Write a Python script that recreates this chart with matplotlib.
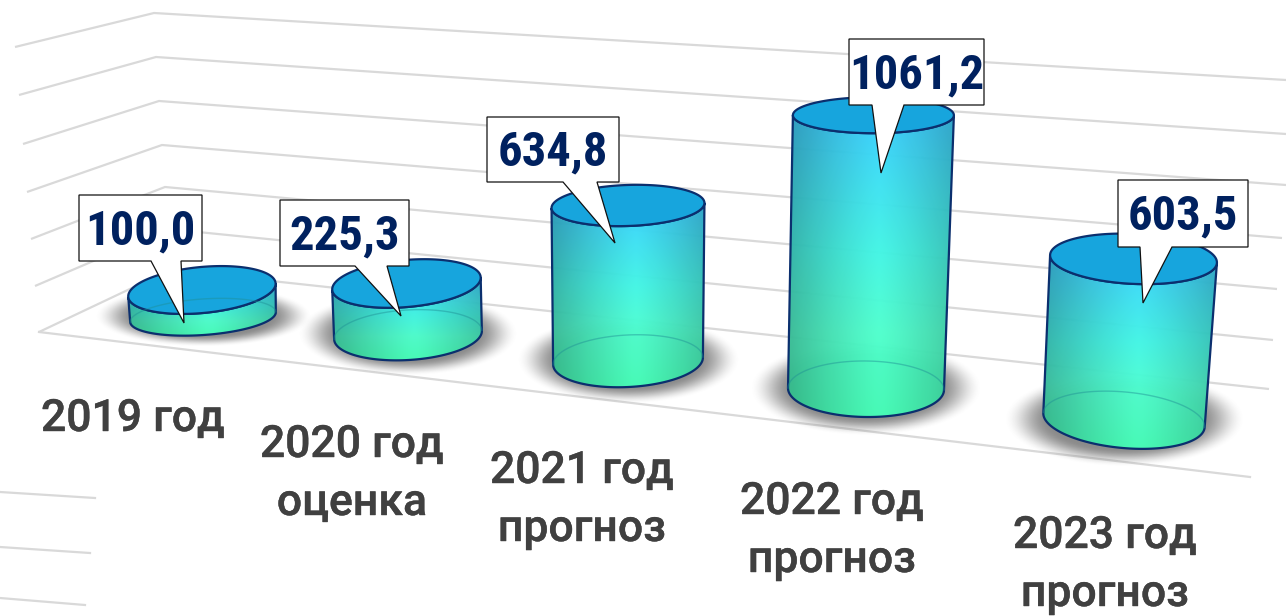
"""
3D-looking cylinder chart, drawn on a pixel-sized axes.
"""
import numpy as np
import matplotlib.pyplot as plt
import matplotlib.patheffects as pe
from matplotlib import font_manager as fm
from matplotlib.patches import Polygon

# ---- data ----
YEARS = ["2019 год", "2020 год", "2021 год", "2022 год", "2023 год"]
NOTES = ["", "оценка", "прогноз", "прогноз", "прогноз"]
VALUES = [100.0, 225.3, 634.8, 1061.2, 603.5]

# ---- layout, in pixels of the 1286x616 picture ----
BASE_X = [203, 408, 628, 866, 1124]
BASE_Y = [317, 335, 361, 389, 420]
PX_PER_UNIT = [0.27, 0.2286, 0.245, 0.258, 0.267]   # perspective differs per bar
LEAN = [-0.04, -0.03, 0.0, 0.027, 0.059]
TOP_A = [74, 74.5, 76.5, 80.5, 83.5]
TOP_B = [23, 23.5, 20.5, 18, 25]
TOP_TILT = [-5.4, -5.0, -2, 0, 2.7]
BOT_A = [73, 74, 75, 78, 81]
BOT_B = [18, 25, 26, 28, 28]
BOT_TILT = [-4, -3.5, -3, 0.7, 5.3]

BOX_L = [79, 280, 487, 849, 1118]
BOX_R = [202, 409, 619, 984, 1248]
BOX_T = [195, 200, 117, 39, 180]
BOX_B = [261, 266, 182, 105, 247]
PTR_L = [151, 355, 563, 872, 1140]
PTR_R = [181, 387, 597, 904, 1172]
TIP_X = [184, 401, 615, 881, 1143]
TIP_Y = [323, 316, 243, 173, 303]

LABEL_X = [133, 352, 582, 832, 1105]
LABEL_Y = [419, 445, 471, 502, 536]
NOTE_DY = 58

# gridlines: left end, back corner, right end
GRID_LEFT_X = [15, 19, 23, 27, 31, 35, 39]
GRID_LEFT_Y = [47, 95, 144, 192, 239, 286, 332]
GRID_CORNER_X = [154, 156, 159, 162, 165, 168, 170]
GRID_CORNER_Y = [13, 57, 101, 145, 187, 229, 270]
GRID_RIGHT_X = [1286, 1286, 1286, 1282, 1277, 1273, 1269]
GRID_RIGHT_Y = [80, 134, 185, 238, 289, 340, 389]
STUBS = [((0, 95), (492, 498)), ((0, 90), (547, 553)), ((0, 85), (598, 605))]

GRID = "#d9d9d9"
OUTLINE = "#0b2f6e"
TOP_FILL = "#17a5dd"
NAVY = "#00215f"
TEXT = "#404040"

fig = plt.figure(figsize=(12.86, 6.16), dpi=100)
ax = fig.add_axes([0, 0, 1, 1])


def pick_font(*names):
    have = {f.name for f in fm.fontManager.ttflist}
    return [n for n in names if n in have] + ["DejaVu Sans"]


def ellipse(cx, cy, a, b, tilt, t):
    th = np.radians(tilt)
    x = cx + a * np.cos(t) * np.cos(th) - b * np.sin(t) * np.sin(th)
    y = cy + a * np.cos(t) * np.sin(th) + b * np.sin(t) * np.cos(th)
    return x, y


def body_gradient(n=200):
    # blue at the top, green at the bottom, darker towards both sides
    stops = [0, 0.45, 0.72, 1]
    reds = [56, 66, 78, 70]
    greens = [206, 245, 255, 255]
    blues = [255, 229, 205, 184]
    v = np.linspace(0, 1, n)
    col = np.stack([np.interp(v, stops, reds),
                    np.interp(v, stops, greens),
                    np.interp(v, stops, blues)], axis=1) / 255
    u = np.linspace(0, 1, n)
    edge = np.clip(np.abs(u - 0.55) / 0.55, 0, 1) ** 1.25
    img = np.zeros((n, n, 3))
    for c in range(3):
        img[:, :, c] = np.outer(col[:, c], 1 - 0.27 * edge)
    return img


def draw_shadow(cx, cy, a, b):
    x = np.linspace(-1, 1, 160)
    xx, yy = np.meshgrid(x, x)
    r = np.hypot(xx, yy)
    alpha = np.clip((1 - r) / 0.38, 0, 1)
    alpha = alpha * alpha * (3 - 2 * alpha) * 0.7
    img = np.zeros((160, 160, 4))
    img[:, :, :3] = 0.35
    img[:, :, 3] = alpha
    ax.imshow(img, extent=(cx - a, cx + a, cy + b, cy - b), aspect="auto",
              zorder=2, interpolation="bilinear")


# gridlines
for i in range(len(GRID_LEFT_X)):
    ax.plot([GRID_LEFT_X[i], GRID_CORNER_X[i], GRID_RIGHT_X[i]],
            [GRID_LEFT_Y[i], GRID_CORNER_Y[i], GRID_RIGHT_Y[i]],
            color=GRID, lw=1.6, zorder=1, solid_capstyle="butt")
ax.plot([GRID_LEFT_X[-1], 1250], [GRID_LEFT_Y[-1], 477], color=GRID, lw=1.6, zorder=1)
for xs, ys in STUBS:
    ax.plot(xs, ys, color=GRID, lw=1.6, zorder=1)

grad = body_gradient()
front = np.linspace(0, np.pi, 80)
back = np.linspace(np.pi, 2 * np.pi, 80)
whole = np.linspace(0, 2 * np.pi, 160)

for i, value in enumerate(VALUES):
    h = value * PX_PER_UNIT[i]
    bx, by = BASE_X[i], BASE_Y[i]
    tx, ty = bx + LEAN[i] * h, by - h
    z = 3 + i * 0.1

    draw_shadow(bx, by - 1, BOT_A[i] * 1.5, BOT_B[i] * 1.7)

    # side wall
    fx, fy = ellipse(bx, by, BOT_A[i], BOT_B[i], BOT_TILT[i], front)
    gx, gy = ellipse(tx, ty, TOP_A[i], TOP_B[i], TOP_TILT[i], front)
    outline = np.column_stack([np.r_[fx, gx[::-1]], np.r_[fy, gy[::-1]]])
    body = Polygon(outline, closed=True, facecolor="none", edgecolor=OUTLINE,
                   lw=1.6, zorder=z + 0.03)
    ax.add_patch(body)
    x0, x1 = outline[:, 0].min(), outline[:, 0].max()
    y0, y1 = outline[:, 1].min(), outline[:, 1].max()
    im = ax.imshow(grad, extent=(x0, x1, y1, y0), aspect="auto", zorder=z,
                   alpha=0.97, interpolation="bilinear")
    im.set_clip_path(body)

    # top face
    ex, ey = ellipse(tx, ty, TOP_A[i], TOP_B[i], TOP_TILT[i], whole)
    ax.fill(ex, ey, facecolor=TOP_FILL, edgecolor=OUTLINE, lw=1.6, zorder=z + 0.05)

    # far edge of the base, seen through the wall (and the lid on short bars)
    kx, ky = ellipse(bx, by, BOT_A[i], BOT_B[i], BOT_TILT[i], back)
    ax.plot(kx, ky, color="#1f8f95", lw=1.0, alpha=0.45, zorder=z + 0.06)

# value callouts
value_font = pick_font("Liberation Sans Narrow", "Roboto Condensed", "Roboto")
label_font = pick_font("Roboto")
for i, value in enumerate(VALUES):
    l, r, t, b = BOX_L[i], BOX_R[i], BOX_T[i], BOX_B[i]
    ax.add_patch(Polygon([(l, t), (r, t), (r, b), (PTR_R[i], b), (TIP_X[i], TIP_Y[i]),
                          (PTR_L[i], b), (l, b)],
                         closed=True, facecolor="white", edgecolor="#111111",
                         lw=0.9, zorder=10, joinstyle="miter"))
    ax.text((l + r) / 2, (t + b) / 2 + 3, f"{value:.1f}".replace(".", ","),
            ha="center", va="center", fontsize=35, color=NAVY,
            family=value_font, fontweight="bold", zorder=11)

# category labels
thicker = [pe.withStroke(linewidth=0.3, foreground=TEXT)]
for i, year in enumerate(YEARS):
    ax.text(LABEL_X[i], LABEL_Y[i], year, ha="center", va="center", fontsize=32,
            color=TEXT, family=label_font, fontweight="medium", zorder=11,
            path_effects=thicker)
    if NOTES[i]:
        ax.text(LABEL_X[i], LABEL_Y[i] + NOTE_DY, NOTES[i], ha="center", va="center",
                fontsize=32, color=TEXT, family=label_font, fontweight="medium",
                zorder=11, path_effects=thicker)

ax.set_xlim(0, 1286)
ax.set_ylim(616, 0)
ax.axis("off")

fig.savefig("out.png", dpi=100, facecolor="white")
